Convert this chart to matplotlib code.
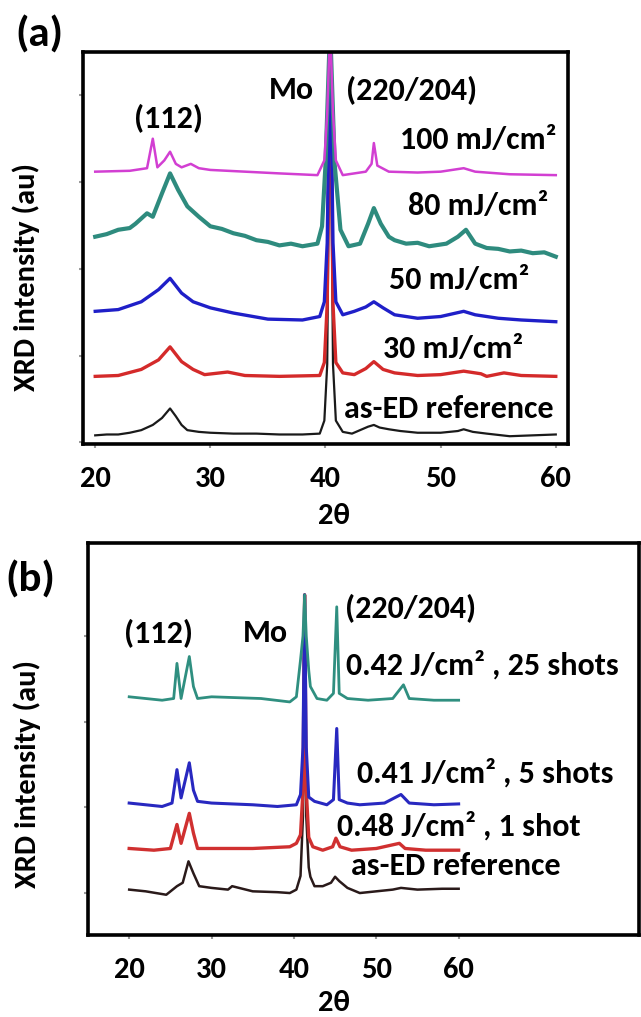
"""XRD patterns of laser-annealed films: two stacked panels, (a) fluence series
and (b) fluence / shot-count series."""

import matplotlib

matplotlib.use("Agg")
import matplotlib.pyplot as plt

plt.rcParams["font.family"] = "Carlito"
plt.rcParams["font.weight"] = "bold"

# ---- panel (a): values (2theta, offset intensity) ----
a_ref_x = [20, 21, 22, 23, 24, 25, 25.8, 26.5, 27, 27.5, 28, 29, 30, 32, 34, 36, 38, 39.5,
           39.9, 40.15, 40.4, 40.65, 40.9, 41.5, 42.3, 43, 43.7, 44.2, 44.7, 45.5, 46.5, 48,
           50, 51.5, 52, 52.8, 54, 56, 58, 60]
a_ref_y = [0.08, 0.09, 0.09, 0.11, 0.14, 0.20, 0.28, 0.39, 0.30, 0.20, 0.14, 0.12, 0.11, 0.10,
           0.10, 0.09, 0.09, 0.10, 0.25, 0.9, 4.8, 0.9, 0.25, 0.12, 0.10, 0.14, 0.18, 0.20,
           0.17, 0.15, 0.13, 0.11, 0.11, 0.13, 0.15, 0.12, 0.10, 0.07, 0.08, 0.09]

a_30_x = [20, 22, 24, 25.5, 26.5, 27.5, 28.5, 29.5, 31.5, 33, 36, 39.5, 39.9, 40.15, 40.4,
          40.65, 40.9, 41.5, 42.5, 43.5, 44.2, 45, 46, 48, 50, 52, 53.5, 54, 55.5, 57, 60]
a_30_y = [0.76, 0.77, 0.84, 0.95, 1.10, 0.93, 0.84, 0.78, 0.81, 0.77, 0.76, 0.77, 0.92, 1.6,
          4.8, 1.6, 0.92, 0.80, 0.78, 0.85, 0.93, 0.84, 0.80, 0.77, 0.78, 0.82, 0.79, 0.76,
          0.80, 0.77, 0.76]

a_50_x = [20, 22, 24, 25.5, 26.5, 27.5, 28.5, 30, 32, 35, 38, 39.5, 39.9, 40.15, 40.4, 40.65,
          40.9, 41.5, 42.5, 43.5, 44.2, 45, 46, 48, 50, 52, 53, 55, 57, 60]
a_50_y = [1.51, 1.53, 1.62, 1.76, 1.89, 1.72, 1.62, 1.55, 1.49, 1.42, 1.41, 1.45, 1.62, 2.3,
          4.8, 2.3, 1.62, 1.47, 1.51, 1.56, 1.62, 1.55, 1.47, 1.43, 1.45, 1.51, 1.47, 1.43,
          1.41, 1.39]

a_80_x = [20, 21, 22, 23, 23.5, 24.5, 25, 25.8, 26.5, 27.2, 28, 29, 30, 31, 32, 33, 34, 35,
          36, 37, 38, 39.3, 39.7, 40.0, 40.4, 40.8, 41.3, 42, 43, 43.7, 44.2, 44.8, 45.5, 46,
          47, 48, 49, 50.5, 51.5, 52.2, 53, 54, 55, 56, 57, 58, 59, 60]
a_80_y = [2.37, 2.40, 2.45, 2.47, 2.52, 2.64, 2.60, 2.87, 3.10, 2.91, 2.72, 2.60, 2.49, 2.46,
          2.41, 2.38, 2.33, 2.31, 2.27, 2.29, 2.26, 2.29, 2.49, 3.2, 4.8, 3.2, 2.45, 2.26,
          2.29, 2.52, 2.70, 2.52, 2.37, 2.33, 2.29, 2.30, 2.26, 2.29, 2.37, 2.45, 2.29, 2.24,
          2.23, 2.20, 2.21, 2.18, 2.19, 2.14]

a_100_x = [20, 23, 24.5, 25, 25.4, 26, 26.5, 27, 27.5, 28.3, 29, 30, 33, 36, 39.3, 39.9,
           40.15, 40.4, 40.65, 40.9, 41.5, 43.5, 44.0, 44.2, 44.5, 45.5, 48, 50, 52, 53, 56, 60]
a_100_y = [3.12, 3.13, 3.16, 3.50, 3.17, 3.25, 3.35, 3.21, 3.17, 3.21, 3.16, 3.14, 3.12, 3.10,
           3.08, 3.25, 3.8, 4.8, 3.8, 3.25, 3.08, 3.12, 3.21, 3.45, 3.19, 3.12, 3.11, 3.12,
           3.16, 3.12, 3.09, 3.08]

a_labels = ["as-ED reference", "30 mJ/cm²", "50 mJ/cm²", "80 mJ/cm²", "100 mJ/cm²"]
a_label_x = [41.6, 45.0, 45.5, 47.2, 46.5]
a_label_y = [0.38, 1.08, 1.87, 2.72, 3.48]
a_peaks = ["(112)", "Mo", "(220/204)"]
a_peak_x = [26.4, 37.0, 47.5]
a_peak_y = [3.73, 4.06, 4.06]

# ---- panel (b) ----
b_ref_x = [20, 22, 24.5, 25.8, 26.5, 27.2, 27.8, 28.5, 30, 32, 32.5, 35, 38, 39.5, 40.3, 40.8,
           41.1, 41.3, 41.5, 41.8, 42, 42.5, 43.5, 44.5, 45, 45.5, 46.5, 48, 50, 52, 53, 55,
           58, 60]
b_ref_y = [0.04, 0.02, -0.02, 0.08, 0.12, 0.37, 0.23, 0.08, 0.06, 0.04, 0.08, 0.02, 0.01, 0.0,
           0.04, 0.20, 0.9, 3.48, 0.9, 0.30, 0.19, 0.08, 0.08, 0.12, 0.19, 0.14, 0.06, 0.0,
           0.02, 0.04, 0.06, 0.04, 0.05, 0.05]

b_1shot_x = [20, 23, 25, 25.8, 26.3, 27.3, 27.8, 28.3, 30, 35, 39.5, 40.3, 40.8, 41.1, 41.3,
             41.5, 41.8, 42.3, 43.5, 44.7, 45.1, 45.6, 47, 50, 52.8, 53.5, 56, 60]
b_1shot_y = [0.52, 0.50, 0.52, 0.80, 0.58, 0.93, 0.70, 0.52, 0.52, 0.52, 0.54, 0.58, 0.68,
             1.2, 3.48, 1.2, 0.65, 0.54, 0.50, 0.54, 0.64, 0.54, 0.50, 0.52, 0.58, 0.52,
             0.50, 0.50]

b_5shot_x = [20, 22, 24, 25.2, 25.8, 26.3, 27.3, 27.8, 28.3, 30, 35, 38, 40.3, 40.8, 41.1,
             41.3, 41.5, 41.8, 42.5, 44, 44.8, 45.2, 45.5, 46.5, 48, 51, 53, 54, 57, 60]
b_5shot_y = [1.05, 1.03, 1.01, 1.05, 1.44, 1.11, 1.52, 1.20, 1.07, 1.05, 1.03, 1.01, 1.03,
             1.15, 1.7, 3.48, 1.7, 1.12, 1.07, 1.03, 1.09, 1.92, 1.09, 1.05, 1.03, 1.05,
             1.15, 1.05, 1.03, 1.04]

b_25shot_x = [20, 22, 24, 25.4, 25.8, 26.3, 27.3, 27.8, 28.3, 30, 33, 36, 39.5, 40.3, 40.8,
              41.1, 41.3, 41.5, 41.8, 42, 42.8, 44, 44.8, 45.2, 45.5, 46.5, 49, 52, 53.3, 54,
              57, 60]
b_25shot_y = [2.29, 2.27, 2.25, 2.27, 2.68, 2.27, 2.76, 2.41, 2.27, 2.29, 2.28, 2.27, 2.23,
              2.29, 2.72, 3.0, 3.48, 3.0, 2.6, 2.41, 2.27, 2.25, 2.33, 3.34, 2.33, 2.27, 2.25,
              2.27, 2.43, 2.27, 2.25, 2.25]

b_labels = ["as-ED reference", "0.48 J/cm² , 1 shot", "0.41 J/cm² , 5 shots",
            "0.42 J/cm² , 25 shots"]
b_label_x = [46.9, 45.2, 47.7, 46.3]
b_label_y = [0.31, 0.78, 1.40, 2.66]
b_peaks = ["(112)", "Mo", "(220/204)"]
b_peak_x = [23.5, 36.5, 54.2]
b_peak_y = [3.03, 3.03, 3.32]

FS = 22      # axis text
FS_LAB = 23  # in-plot annotations


def style_axes(ax, xlim, ylim, yticks):
    ax.set_xlim(*xlim)
    ax.set_ylim(*ylim)
    ax.set_xticks([20, 30, 40, 50, 60])
    ax.set_yticks(yticks)
    ax.set_yticklabels([])
    ax.tick_params(axis="both", direction="out", length=3, width=1.5, color="#9a9a9a")
    ax.tick_params(axis="x", pad=13, labelsize=FS)
    for s in ax.spines.values():
        s.set_linewidth(2.6)
        s.set_color("black")
    for lab in ax.get_xticklabels():
        lab.set_fontweight("bold")
    ax.set_xlabel("2θ", fontsize=FS, fontweight="bold")
    ax.set_ylabel("XRD intensity (au)", fontsize=FS, fontweight="bold")


def annotate(ax, labels, xs, ys, ha):
    for t, x, y in zip(labels, xs, ys):
        ax.text(x, y, t, ha=ha, va="center", fontsize=FS_LAB, fontweight="bold")


fig = plt.figure(figsize=(6.41, 10.17), dpi=100)

# panel (a)
ax1 = fig.add_axes([0.1295, 0.5634, 0.7566, 0.3855])
ax1.plot(a_ref_x, a_ref_y, color="#1a1a1a", lw=1.6)
ax1.plot(a_30_x, a_30_y, color="#d42a2a", lw=2.4)
ax1.plot(a_50_x, a_50_y, color="#1f1fc8", lw=2.4)
ax1.plot(a_80_x, a_80_y, color="#2e8b7e", lw=3.0)
ax1.plot(a_100_x, a_100_y, color="#d23fd2", lw=1.8)
annotate(ax1, a_labels, a_label_x, a_label_y, "left")
annotate(ax1, a_peaks, a_peak_x, a_peak_y, "center")
style_axes(ax1, (18.94, 61.06), (-0.02, 4.5), [0, 1, 2, 3, 4])
ax1.xaxis.set_label_coords(0.517, -0.15)
ax1.yaxis.set_label_coords(-0.089, 0.425)
fig.text(0.062, 0.966, "(a)", fontsize=31, fontweight="bold", ha="center", va="center")

# panel (b)
ax2 = fig.add_axes([0.1373, 0.0806, 0.8596, 0.3855])
ax2.plot(b_ref_x, b_ref_y, color="#2a1a1a", lw=1.8)
ax2.plot(b_1shot_x, b_1shot_y, color="#d03030", lw=2.4)
ax2.plot(b_5shot_x, b_5shot_y, color="#2828c0", lw=2.2)
ax2.plot(b_25shot_x, b_25shot_y, color="#2f8f80", lw=2.0)
annotate(ax2, b_labels, b_label_x, b_label_y, "left")
annotate(ax2, b_peaks, b_peak_x, b_peak_y, "center")
style_axes(ax2, (15.0, 81.9), (-0.49, 4.085), [0, 1, 2, 3])
ax2.xaxis.set_label_coords(0.446, -0.14)
ax2.yaxis.set_label_coords(-0.085, 0.41)
fig.text(0.048, 0.430, "(b)", fontsize=31, fontweight="bold", ha="center", va="center")

fig.savefig("out.png", dpi=100)
